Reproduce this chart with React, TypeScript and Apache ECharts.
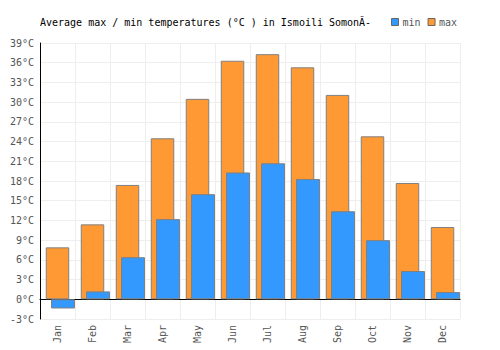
import React, { useEffect, useRef } from "react";
import * as echarts from "echarts";

const months = ["Jan", "Feb", "Mar", "Apr", "May", "Jun", "Jul", "Aug", "Sep", "Oct", "Nov", "Dec"];
const minTemps = [-1.4, 1.2, 6.4, 12.2, 16.0, 19.3, 20.7, 18.3, 13.4, 9.0, 4.3, 1.1];
const maxTemps = [7.9, 11.4, 17.4, 24.5, 30.5, 36.3, 37.3, 35.3, 31.1, 24.8, 17.7, 11.0];
const titleText = "Average max / min temperatures (°C ) in Ismoili SomonĂ-";

const FONT = "DejaVu Sans Mono";

export default function App() {
  const ref = useRef<HTMLDivElement>(null);
  useEffect(() => {
    if (!ref.current) return;
    const chart = echarts.init(ref.current, undefined, { renderer: "svg" });
    const yBase = { type: "value", min: -3, max: 39, interval: 3 };
    chart.setOption({
      animation: false,
      title: {
        text: titleText,
        left: 40,
        top: 17,
        padding: 0,
        textStyle: { fontFamily: FONT, fontSize: 10, fontWeight: "normal", color: "#000" },
      },
      legend: {
        data: ["min", "max"],
        left: 391,
        top: 17,
        padding: 0,
        icon: "rect",
        itemWidth: 7,
        itemHeight: 7,
        itemGap: 7,
        itemStyle: { borderColor: "#666", borderWidth: 1 },
        textStyle: { fontFamily: FONT, fontSize: 10, color: "#555", padding: [0, 0, 0, -1] },
      },
      grid: [
        { left: 40, right: 40, top: 43, bottom: 31 },
        { left: 45.5, right: 34.5, top: 43, bottom: 31 },
      ],
      xAxis: [
        {
          type: "category",
          gridIndex: 0,
          data: months,
          boundaryGap: true,
          axisLine: { onZero: true, lineStyle: { color: "#000", width: 1 } },
          axisTick: { show: false },
          axisLabel: {
            rotate: 90,
            margin: 6,
            fontFamily: FONT,
            fontSize: 10,
            color: "#555",
            interval: 0,
            padding: [5, 0, 0, 0],
          },
          splitLine: { show: true, interval: 0, lineStyle: { color: "#eeeeee", width: 1 } },
        },
        {
          type: "category",
          gridIndex: 1,
          data: months,
          show: false,
        },
      ],
      yAxis: [
        {
          ...yBase,
          gridIndex: 0,
          axisLine: { show: true, lineStyle: { color: "#000", width: 1 } },
          axisTick: { show: false },
          axisLabel: { formatter: "{value}°C", margin: 6, fontFamily: FONT, fontSize: 10, color: "#555" },
          splitLine: { show: true, lineStyle: { color: "#eeeeee", width: 1 } },
        },
        { ...yBase, gridIndex: 1, show: false, splitLine: { show: false } },
      ],
      series: [
        {
          name: "max",
          type: "bar",
          xAxisIndex: 0,
          yAxisIndex: 0,
          data: maxTemps,
          barWidth: 23.5,
          itemStyle: { color: "#FF9933", borderColor: "#808080", borderWidth: 1 },
        },
        {
          name: "min",
          type: "bar",
          xAxisIndex: 1,
          yAxisIndex: 1,
          data: minTemps,
          barWidth: 24,
          itemStyle: { color: "#3399FF", borderColor: "#808080", borderWidth: 1 },
        },
      ],
    });
    return () => chart.dispose();
  }, []);
  return (
    <div
      ref={ref}
      style={{ position: "absolute", left: 0, top: 0, width: 500, height: 350 }}
    />
  );
}
